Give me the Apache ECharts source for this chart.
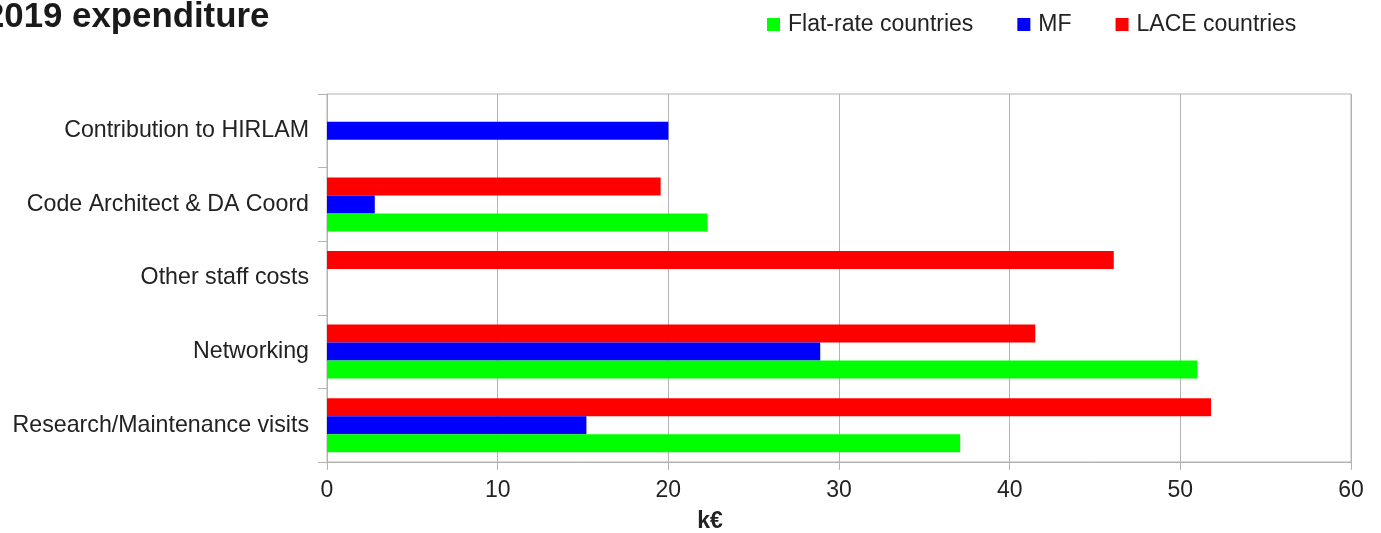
<!DOCTYPE html>
<html>
<head>
<meta charset="utf-8">
<script src="https://cdn.jsdelivr.net/npm/echarts@6/dist/echarts.min.js"></script>
<style>
html,body{margin:0;padding:0;background:#fff;}
#chart{width:1381px;height:533px;}
</style>
</head>
<body>
<div id="chart"></div>
<script>
var titleText = '2019 expenditure';
var axisName = 'k€';
var categories = ['Research/Maintenance visits', 'Networking', 'Other staff costs', 'Code Architect & DA Coord', 'Contribution to HIRLAM'];
var seriesNames = ['Flat-rate countries', 'MF', 'LACE countries'];
var flatRate = [37.1, 51.0, null, 22.3, null];
var mf = [15.2, 28.9, null, 2.8, 20.0];
var lace = [51.8, 41.5, 46.1, 19.55, null];
var xMin = 0, xMax = 60, xInterval = 10;

var font = 'Liberation Sans';
var barCommon = {type: 'bar', barGap: '0%', barCategoryGap: '26.6%'};
var chart = echarts.init(document.getElementById('chart'));
chart.setOption({
  animation: false,
  backgroundColor: '#fff',
  title: {
    text: titleText,
    left: -15, top: 0, padding: 0,
    textStyle: {fontFamily: font, fontWeight: 'bold', fontSize: 34.8, color: '#1a1a1a'}
  },
  legend: {
    left: 767, top: 13, padding: 0,
    itemWidth: 13, itemHeight: 13, itemGap: 44,
    icon: 'rect',
    data: seriesNames,
    textStyle: {fontFamily: font, fontSize: 23, color: '#222', padding: [0, 0, 0, 3]}
  },
  grid: {
    left: 327, right: 30, top: 94, bottom: 71,
    show: true, borderColor: '#b3b3b3', borderWidth: 1, backgroundColor: 'transparent',
    containLabel: false, outerBoundsMode: 'none'
  },
  xAxis: {
    type: 'value', min: xMin, max: xMax, interval: xInterval,
    name: axisName, nameLocation: 'middle', nameGap: 48,
    nameTextStyle: {fontFamily: font, fontWeight: 'bold', fontSize: 23, color: '#222', padding: [0, 258, 0, 0]},
    axisLine: {show: true, lineStyle: {color: '#b3b3b3', width: 1}},
    axisTick: {show: true, length: 8, lineStyle: {color: '#b3b3b3'}},
    axisLabel: {fontFamily: font, fontSize: 23, color: '#222', margin: 17},
    splitLine: {show: true, lineStyle: {color: '#b3b3b3', width: 1}}
  },
  yAxis: {
    type: 'category', data: categories,
    axisLine: {show: true, lineStyle: {color: '#b3b3b3', width: 1}},
    axisTick: {show: true, length: 9, lineStyle: {color: '#b3b3b3'}},
    axisLabel: {fontFamily: font, fontSize: 23.2, color: '#222', margin: 18},
    splitLine: {show: false}
  },
  series: [
    Object.assign({name: seriesNames[2], data: lace, itemStyle: {color: '#ff0000'}}, barCommon),
    Object.assign({name: seriesNames[1], data: mf, itemStyle: {color: '#0000ff'}}, barCommon),
    Object.assign({name: seriesNames[0], data: flatRate, itemStyle: {color: '#00ff00'}}, barCommon)
  ]
});
</script>
</body>
</html>
